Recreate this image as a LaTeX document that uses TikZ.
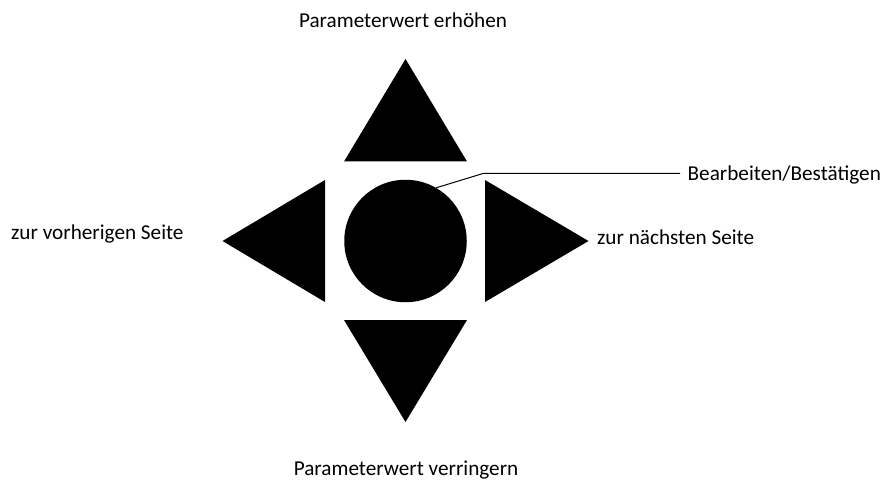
\documentclass[tikz,border=0pt]{standalone}
\usepackage{fontspec}
\setmainfont{Carlito}
\begin{document}
\begin{tikzpicture}[x=1pt,y=-1pt,
  btn/.style={fill=black,draw=none},
  lbl/.style={font=\fontsize{21.2}{25}\selectfont,inner sep=0pt},
  leader/.style={draw=black,line width=1pt}]
\useasboundingbox (0,0) rectangle (883,481);
% buttons
\fill[btn] (405.5,59) -- (467,161.5) -- (344,161.5) -- cycle;
\fill[btn] (405.5,422) -- (467,320) -- (344,320) -- cycle;
\fill[btn] (222.5,241) -- (325,180) -- (325,302) -- cycle;
\fill[btn] (588.5,241) -- (485,180) -- (485,302) -- cycle;
\node[btn,circle,minimum size=122.5pt,inner sep=0pt] (ok) at (405.5,241) {};
% labels
\node[lbl,anchor=base] (up) at (403,27.5) {Parameterwert erhöhen};
\node[lbl,anchor=base] (down) at (406,475) {Parameterwert verringern};
\node[lbl,anchor=base west] (left) at (11,239) {zur vorherigen Seite};
\node[lbl,anchor=base west] (right) at (597,244.5) {zur nächsten Seite};
\node[lbl,anchor=base west] (edit) at (687.5,181) {Bearbeiten/Bestätigen};
% leader
\coordinate (bend) at (483,173.5);
\coordinate (lend) at (680,173.5);
\draw[leader] (ok.60) -- (bend) -- (lend);
\end{tikzpicture}
\end{document}
